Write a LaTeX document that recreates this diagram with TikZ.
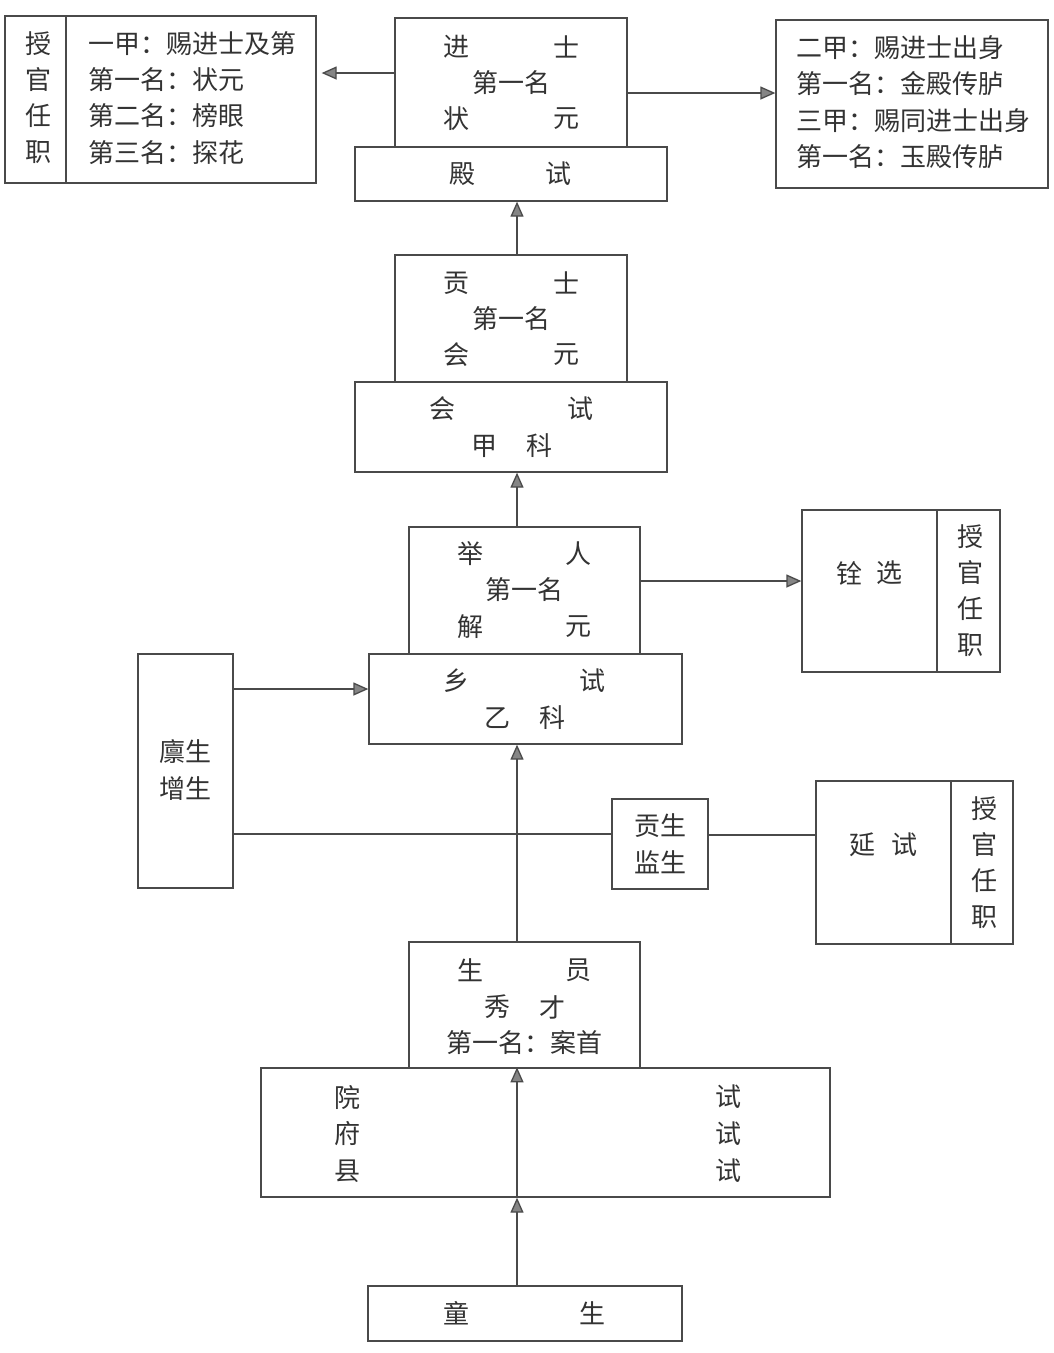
\documentclass[tikz,border=0pt]{standalone}
\usepackage{fontspec}
\setmainfont{Noto Sans CJK SC}
\usetikzlibrary{arrows.meta}
\usetikzlibrary{calc}

\definecolor{linegray}{HTML}{4A4A4A}
\definecolor{textgray}{HTML}{333333}
\definecolor{tipgray}{HTML}{858585}

\tikzset{
	box/.style={draw=linegray, line width=1.3pt, inner sep=0pt, fill=white},
	txt/.style={text=textgray, inner sep=0pt, font=\fontsize{26}{30}\selectfont},
	arr/.style={draw=linegray, line width=1.3pt, -{Triangle[length=15pt,width=13pt,fill=tipgray]}},
	ln/.style={draw=linegray, line width=1.3pt},
}

\begin{document}
\begin{tikzpicture}[x=1pt,y=-1pt]

		\useasboundingbox (0,0) rectangle (1053,1353);
		\coordinate (ax) at (517,0);
		
		% boxes
		\node [box, minimum width=311pt, minimum height=167pt] (yijia) at (160.5,99.5) {};
		\node [box, minimum width=232pt, minimum height=129pt] (jinshi) at (511,82.5) {};
		\node [box, minimum width=312pt, minimum height=54pt] (dianshi) at (511,174) {};
		\node [box, minimum width=272pt, minimum height=168pt] (erjia) at (912,104) {};
		\node [box, minimum width=232pt, minimum height=127pt] (gongshi) at (511,318.5) {};
		\node [box, minimum width=312pt, minimum height=90pt] (huishi) at (511,427) {};
		\node [box, minimum width=231pt, minimum height=127pt] (juren) at (524.5,590.5) {};
		\node [box, minimum width=313pt, minimum height=90pt] (xiangshi) at (525.5,699) {};
		\node [box, minimum width=198pt, minimum height=162pt] (quanxuan) at (901,591) {};
		\node [box, minimum width=95pt, minimum height=234pt] (linsheng) at (185.5,771) {};
		\node [box, minimum width=197pt, minimum height=163pt] (tingshi) at (914.5,862.5) {};
		\node [box, minimum width=231pt, minimum height=126pt] (shengyuan) at (524.5,1005) {};
		\node [box, minimum width=569pt, minimum height=129pt] (yuanshi) at (545.5,1132.5) {};
		\node [box, minimum width=314pt, minimum height=55pt] (tongsheng) at (525,1313.5) {};
		
		% dividers
		\draw [ln] (yijia.north west -| 66,0) -- (yijia.south west -| 66,0);
		\draw [ln] (quanxuan.north -| 937,0) -- (quanxuan.south -| 937,0);
		\draw [ln] (tingshi.north -| 951,0) -- (tingshi.south -| 951,0);
		
		% connectors
		\draw [arr] (gongshi.north -| ax) -- (dianshi.south -| ax);
		\draw [arr] (juren.north -| ax) -- (huishi.south -| ax);
		\draw [arr] (shengyuan.north -| ax) -- (xiangshi.south -| ax);
		\draw [arr] (tongsheng.north -| ax) -- (yuanshi.south -| ax);
		\draw [arr] (yuanshi.south -| ax) -- (yuanshi.north -| ax);
		\draw [arr, shorten >=5pt] (jinshi.west |- 0,73) -- (yijia.east |- 0,73);
		\draw [arr] (jinshi.east |- 0,93) -- (erjia.west |- 0,93);
		\draw [arr] (juren.east |- 0,581) -- (quanxuan.west |- 0,581);
		\draw [arr] (linsheng.east |- 0,689) -- (xiangshi.west |- 0,689);
		\node [box, minimum width=96pt, minimum height=90pt] (gongsheng) at (660,844) {};
		\draw [ln] (linsheng.east |- 0,834) -- (gongsheng.west |- 0,834);
		\draw [ln] (gongsheng.east |- 0,835) -- (tingshi.west |- 0,835);
		
		% texts
		\foreach \c [count=\i] in {授,官,任,职} {
			\node [txt] (ya\i) at (38,{8+36*\i}) {\c};
			\node [txt] (qa\i) at (970,{501+36*\i}) {\c};
			\node [txt] (ta\i) at (984,{772+36.3*\i}) {\c};
		}
		\node [txt, anchor=west] (y1) at (88,44) {一甲：赐进士及第};
		\node [txt, anchor=west] (y2) at (88,80) {第一名：状元};
		\node [txt, anchor=west] (y3) at (88,116) {第二名：榜眼};
		\node [txt, anchor=west] (y4) at (88,153) {第三名：探花};
		
		\node [txt] (j1) at (456,47) {进};
		\node [txt] (j2) at (566,47) {士};
		\node [txt] (j3) at (511,83) {第一名};
		\node [txt] (j4) at (456,119) {状};
		\node [txt] (j5) at (566,119) {元};
		\node [txt] (d1) at (462,174) {殿};
		\node [txt] (d2) at (558,174) {试};
		
		\node [txt, anchor=west] (e1) at (796,48) {二甲：赐进士出身};
		\node [txt, anchor=west] (e2) at (796,84) {第一名：金殿传胪};
		\node [txt, anchor=west] (e3) at (796,121) {三甲：赐同进士出身};
		\node [txt, anchor=west] (e4) at (796,157) {第一名：玉殿传胪};
		
		\node [txt] (g1) at (456,283) {贡};
		\node [txt] (g2) at (566,283) {士};
		\node [txt] (g3) at (511,319) {第一名};
		\node [txt] (g4) at (456,355) {会};
		\node [txt] (g5) at (566,355) {元};
		\node [txt] (h1) at (442,409) {会};
		\node [txt] (h2) at (580,409) {试};
		\node [txt] (h3) at (484,446) {甲};
		\node [txt] (h4) at (539,446) {科};
		
		\node [txt] (r1) at (470,554) {举};
		\node [txt] (r2) at (578,554) {人};
		\node [txt] (r3) at (524,590) {第一名};
		\node [txt] (r4) at (470,627) {解};
		\node [txt] (r5) at (578,627) {元};
		\node [txt] (x1) at (456,681) {乡};
		\node [txt] (x2) at (592,681) {试};
		\node [txt] (x3) at (497,718) {乙};
		\node [txt] (x4) at (552,718) {科};
		
		\node [txt] (q1) at (849,573) {铨};
		\node [txt] (q2) at (889,573) {选};
		\node [txt] (l1) at (185,752) {廪生};
		\node [txt] (l2) at (185,789) {增生};
		\node [txt] (s1) at (660,826) {贡生};
		\node [txt] (s2) at (660,862) {监生};
		\node [txt] (t1) at (862,845) {延};
		\node [txt] (t2) at (904,845) {试};
		
		\node [txt] (sy1) at (470,970) {生};
		\node [txt] (sy2) at (578,970) {员};
		\node [txt] (sy3) at (497,1007) {秀};
		\node [txt] (sy4) at (552,1007) {才};
		\node [txt] (sy5) at (524,1043) {第一名：案首};
		\foreach \c [count=\i] in {院,府,县} {
			\node [txt] (yl\i) at (347,{1060+37*\i}) {\c};
			\node [txt] (yr\i) at (728,{1060+37*\i}) {试};
		}
		\node [txt] (ts1) at (456,1313) {童};
		\node [txt] (ts2) at (592,1313) {生};

\end{tikzpicture}
\end{document}
